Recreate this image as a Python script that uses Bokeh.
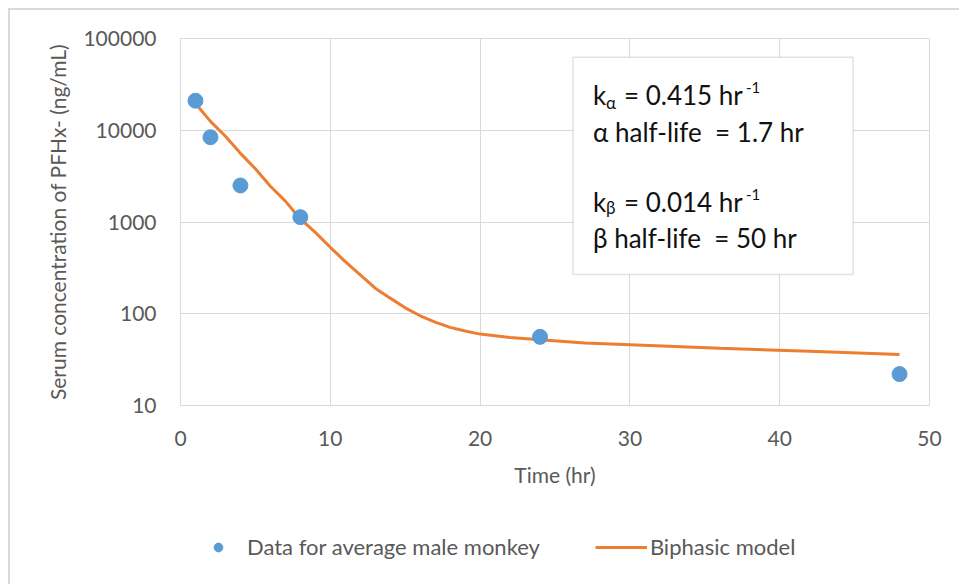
from bokeh.plotting import figure
from bokeh.layouts import column
from bokeh.models import (ColumnDataSource, FixedTicker, PrintfTickFormatter, Range1d,
                          BoxAnnotation, Label, Legend, LegendItem)
from bokeh.embed import file_html
from bokeh.resources import INLINE

# ---- data ----
data_t = [1, 2, 4, 8, 24, 48]
data_c = [21000, 8400, 2500, 1130, 56, 22]

model_t = [1, 2, 3, 4, 5, 6, 7, 8, 9, 10, 11, 12, 13, 14, 15, 16, 17, 18, 19, 20,
           22, 24, 27, 30, 36, 42, 48]
model_c = [19600, 12500, 8600, 5600, 3800, 2450, 1690, 1080, 770, 530, 370, 265, 190,
           148, 116, 95, 81, 71, 65, 60, 55, 52, 48, 46, 42, 39, 36]

x_ticks = [0, 10, 20, 30, 40, 50]
y_ticks = [10, 100, 1000, 10000, 100000]

x_title = "Time (hr)"
y_title = "Serum concentration of PFHx- (ng/mL)"
series_names = ["Data for average male monkey", "Biphasic model"]

FONT = "Lato"
GREY = "#595959"
BLUE = "#5B9BD5"
ORANGE = "#ED7D31"
NB = "\u00a0"

p1 = figure(width=949, height=500, y_axis_type="log",
            x_range=Range1d(0, 50), y_range=Range1d(10, 100000),
            output_backend="svg", toolbar_location=None,
            min_border_left=170, min_border_right=30, min_border_top=28,
            min_border_bottom=105)

p1.outline_line_color = "#d9d9d9"
p1.background_fill_color = "white"
p1.border_fill_color = "white"

p1.xaxis.ticker = FixedTicker(ticks=x_ticks)
p1.yaxis.ticker = FixedTicker(ticks=y_ticks)
p1.xgrid.ticker = FixedTicker(ticks=x_ticks)
p1.ygrid.ticker = FixedTicker(ticks=y_ticks)
p1.yaxis.formatter = PrintfTickFormatter(format="%d")
for g in (p1.xgrid, p1.ygrid):
    g.grid_line_color = "#d9d9d9"
    g.grid_line_width = 1
p1.ygrid.minor_grid_line_color = None

for ax in (p1.xaxis, p1.yaxis):
    ax.axis_line_color = None
    ax.major_tick_line_color = None
    ax.minor_tick_line_color = None
    ax.major_label_text_font = FONT
    ax.major_label_text_font_size = "21px"
    ax.major_label_text_color = GREY
    ax.axis_label_text_font = FONT
    ax.axis_label_text_font_size = "21px"
    ax.axis_label_text_color = GREY
    ax.axis_label_text_font_style = "normal"

p1.xaxis.axis_label = x_title
p1.yaxis.axis_label = y_title
p1.xaxis.major_label_standoff = 19
p1.xaxis.axis_label_standoff = 13
p1.yaxis.major_label_standoff = 18
p1.yaxis.axis_label_standoff = 10

src_model = ColumnDataSource(dict(t=model_t, c=model_c))
src_data = ColumnDataSource(dict(t=data_t, c=data_c))
p1.line("t", "c", source=src_model, line_color=ORANGE, line_width=3)
p1.scatter("t", "c", source=src_data, size=15, fill_color=BLUE,
           line_color=BLUE, marker="circle")

# ---- annotation box ----
bx_left, bx_right, by_top, by_bottom = 26.2, 44.9, 62400, 268
p1.add_layout(BoxAnnotation(left=bx_left, right=bx_right, top=by_top, bottom=by_bottom,
                            fill_color="white", fill_alpha=1.0,
                            line_color="#a0a0a0", line_width=1.5))

def piece(text, dx, dy, size):
    p1.add_layout(Label(x=bx_left, y=by_top, x_offset=dx, y_offset=-dy, text=text,
                        text_font=FONT, text_font_size=f"{size}px", text_color="#111111",
                        text_baseline="alphabetic", text_align="left"))

piece("k", 20, 38, 26)
piece("\u03b1", 33, 45, 17)
piece("=" + NB + "0.415" + NB + "hr", 51, 38, 26)
piece("-1", 173, 30, 15)
piece("\u03b1" + NB + "half-life" + NB + NB + "=" + NB + "1.7" + NB + "hr", 20, 75, 26)
piece("k", 20, 145, 26)
piece("\u03b2", 33, 150, 17)
piece("=" + NB + "0.014" + NB + "hr", 51, 145, 26)
piece("-1", 173, 137, 15)
piece("\u03b2" + NB + "half-life" + NB + NB + "=" + NB + "50" + NB + "hr", 20, 181, 26)

# ---- legend strip (separate figure below the chart; its range hides the data) ----
p2 = figure(width=949, height=74, x_range=Range1d(-10, -5), y_range=Range1d(0, 1),
            output_backend="svg", toolbar_location=None,
            x_axis_location=None, y_axis_location=None,
            min_border=0, min_border_left=0, min_border_right=0,
            min_border_top=0, min_border_bottom=0)
p2.outline_line_color = None
p2.xgrid.grid_line_color = None
p2.ygrid.grid_line_color = None
p2.background_fill_color = "white"
p2.border_fill_color = "white"

leg_pts = p2.scatter("t", "c", source=src_data, size=15, fill_color=BLUE,
                     line_color=BLUE, marker="circle")
leg_line = p2.line("t", "c", source=src_model, line_color=ORANGE, line_width=3)

legend = Legend(items=[LegendItem(label=series_names[0], renderers=[leg_pts]),
                       LegendItem(label=series_names[1], renderers=[leg_line])],
                location=(12, 24), orientation="horizontal",
                glyph_width=52, glyph_height=22, label_standoff=3, spacing=55,
                padding=0, margin=0, border_line_color=None, background_fill_alpha=0,
                label_text_font=FONT, label_text_font_size="22px",
                label_text_color=GREY)
p2.add_layout(legend, "center")

p = column(p1, p2, spacing=0)
p.styles = {"margin-left": "8px", "margin-top": "8px",
            "border-left": "2px solid #d9d9d9", "border-top": "2px solid #d9d9d9"}

open("out.html", "w").write(file_html(p, INLINE))
